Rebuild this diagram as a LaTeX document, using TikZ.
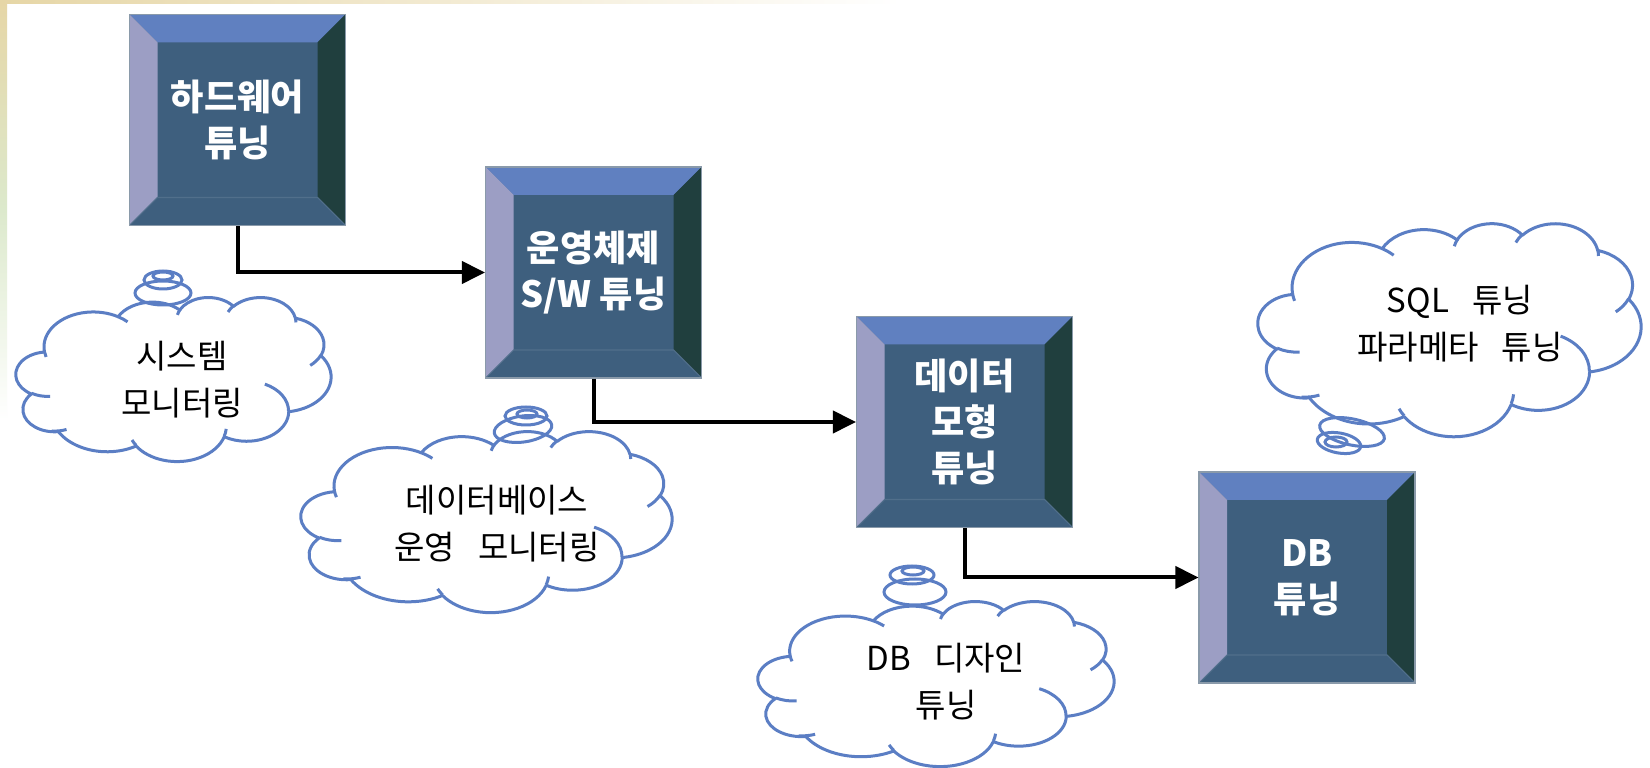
\documentclass[tikz,border=0pt]{standalone}
\usepackage{fontspec}
\newfontfamily\kfont{Noto Sans CJK KR}
\usetikzlibrary{arrows.meta}
\definecolor{face}{HTML}{3E5F7E}
\definecolor{bevtop}{HTML}{6080C0}
\definecolor{bevleft}{HTML}{9C9EC4}
\definecolor{bevright}{HTML}{203F3E}
\definecolor{boxedge}{HTML}{8A9AAA}
\definecolor{cloudblue}{HTML}{5B7EC4}
\definecolor{tan}{HTML}{E6D6A6}
\definecolor{paleg}{HTML}{DCE9CC}
\newcommand\wsp{\hspace{0.7em}}
\makeatletter
% convert a visual (DrawingML) ellipse angle pair into TikZ parametric start/delta
\newcommand\cldang[5]{%
  \pgfmathparse{atan2((#2)*sin(#4),(#3)*cos(#4))}\let\cld@a\pgfmathresult
  \pgfmathparse{atan2((#2)*sin((#4)+(#5)),(#3)*cos((#4)+(#5)))}\let\cld@b\pgfmathresult
  \pgfmathparse{\cld@b-\cld@a}\let\cld@d\pgfmathresult
  \pgfmathparse{((#5)>0)*((\cld@d<0)*360)-((#5)<0)*((\cld@d>0)*360)+(\cld@d)}\let\cld@d\pgfmathresult
  \expandafter\xdef\csname cldS#1\endcsname{\cld@a}%
  \expandafter\xdef\csname cldD#1\endcsname{\cld@d}%
}
\makeatother
\cldang{a}{67.53}{91.90}{-190.4875}{123.7805}
\cldang{b}{53.33}{72.67}{-144.1024}{89.9452}
\cldang{c}{43.65}{59.45}{-145.8079}{99.7230}
\cldang{d}{48.57}{65.95}{-130.9861}{117.2417}
\cldang{e}{53.33}{72.73}{-78.7089}{109.0269}
\cldang{f}{67.75}{92.20}{-46.2673}{130.2690}
\cldang{g}{57.85}{78.67}{0.6250}{114.0333}
\cldang{h}{67.52}{92.15}{22.4516}{115.1726}
\cldang{i}{77.20}{105.43}{66.2426}{75.7110}
\cldang{j}{43.60}{59.18}{-274.9421}{146.7356}
\cldang{k}{43.45}{59.45}{-246.8285}{152.5189}
\cldang{l}{43.45}{59.45}{86.742}{26.430}
\cldang{m}{43.60}{59.18}{73.604}{20.185}
\cldang{n}{67.52}{92.15}{137.624}{11.442}
\cldang{o}{67.52}{92.15}{6.458}{15.986}
\cldang{p}{57.85}{78.67}{-70.292}{70.917}
\cldang{q}{53.33}{72.73}{30.318}{27.752}
\cldang{r}{48.57}{65.95}{-13.744}{14.857}
\cldang{s}{48.57}{65.95}{-149.181}{18.195}
\cldang{t}{43.65}{59.45}{-163.494}{17.688}
\cldang{u}{67.53}{91.90}{-66.707}{12.319}
\cldang{v}{67.53}{91.90}{157.654}{11.858}
\tikzset{
  bevbox/.style={rectangle, minimum width=21.6mm, minimum height=21.1mm, inner sep=0pt,
    fill=face, draw=boxedge, line width=0.3pt, text=white, align=center,
    font=\kfont\bfseries\fontsize{10.3}{13.1}\selectfont,
    path picture={
      \fill[bevtop] (path picture bounding box.north west) -- (path picture bounding box.north east)
        -- ([shift={(-2.8mm,-2.8mm)}]path picture bounding box.north east)
        -- ([shift={(2.8mm,-2.8mm)}]path picture bounding box.north west) -- cycle;
      \fill[bevleft] (path picture bounding box.north west)
        -- ([shift={(2.8mm,-2.8mm)}]path picture bounding box.north west)
        -- ([shift={(2.8mm,2.8mm)}]path picture bounding box.south west)
        -- (path picture bounding box.south west) -- cycle;
      \fill[bevright] (path picture bounding box.north east)
        -- ([shift={(-2.8mm,-2.8mm)}]path picture bounding box.north east)
        -- ([shift={(-2.8mm,2.8mm)}]path picture bounding box.south east)
        -- (path picture bounding box.south east) -- cycle;
      \draw[face!90!white, line width=0.3pt] (path picture bounding box.south west)
        -- ([shift={(2.8mm,2.8mm)}]path picture bounding box.south west)
        -- ([shift={(-2.8mm,2.8mm)}]path picture bounding box.south east)
        -- (path picture bounding box.south east);
    }},
  cloudline/.style={draw=cloudblue, line width=0.3mm, line join=round},
  ctext/.style={font=\kfont\fontsize{9.4}{13.4}\selectfont, align=center, text=black},
  bubble/.style={draw=cloudblue, line width=0.3mm},
  conn/.style={line width=0.4mm, -{Triangle[length=2.3mm,width=2.2mm]}},
}
% cloud outline (DrawingML cloud geometry, 432 x 432 units) in box x0,y0,w,h
\newcommand\pptcloud[4]{%
  \begin{scope}[shift={(#1,#2)}, xscale=#3/432, yscale=#4/432]
    \filldraw[cloudline, fill=white] (39.00,143.70)
      arc[x radius=67.53, y radius=91.90, start angle=\cldSa, delta angle=\cldDa]
      arc[x radius=53.33, y radius=72.67, start angle=\cldSb, delta angle=\cldDb]
      arc[x radius=43.65, y radius=59.45, start angle=\cldSc, delta angle=\cldDc]
      arc[x radius=48.57, y radius=65.95, start angle=\cldSd, delta angle=\cldDd]
      arc[x radius=53.33, y radius=72.73, start angle=\cldSe, delta angle=\cldDe]
      arc[x radius=67.75, y radius=92.20, start angle=\cldSf, delta angle=\cldDf]
      arc[x radius=57.85, y radius=78.67, start angle=\cldSg, delta angle=\cldDg]
      arc[x radius=67.52, y radius=92.15, start angle=\cldSh, delta angle=\cldDh]
      arc[x radius=77.20, y radius=105.43, start angle=\cldSi, delta angle=\cldDi]
      arc[x radius=43.60, y radius=59.18, start angle=\cldSj, delta angle=\cldDj]
      arc[x radius=43.45, y radius=59.45, start angle=\cldSk, delta angle=\cldDk]
      -- cycle;
    \draw[cloudline]
      (46.93,261.77) arc[x radius=43.45, y radius=59.45, start angle=\cldSl, delta angle=\cldDl]
      (69.28,348.99) arc[x radius=43.60, y radius=59.18, start angle=\cldSm, delta angle=\cldDm]
      (164.78,390.90) arc[x radius=67.52, y radius=92.15, start angle=\cldSn, delta angle=\cldDn]
      (288.27,347.51) arc[x radius=67.52, y radius=92.15, start angle=\cldSo, delta angle=\cldDo]
      (341.29,229.54) arc[x radius=57.85, y radius=78.67, start angle=\cldSp, delta angle=\cldDp]
      (417.98,153.54) arc[x radius=53.33, y radius=72.73, start angle=\cldSq, delta angle=\cldDq]
      (383.24,54.26) arc[x radius=48.57, y radius=65.95, start angle=\cldSr, delta angle=\cldDr]
      (290.78,39.52) arc[x radius=48.57, y radius=65.95, start angle=\cldSs, delta angle=\cldDs]
      (221.41,47.20) arc[x radius=43.65, y radius=59.45, start angle=\cldSt, delta angle=\cldDt]
      (140.00,51.92) arc[x radius=67.53, y radius=91.90, start angle=\cldSu, delta angle=\cldDu]
      (41.27,157.89) arc[x radius=67.53, y radius=91.90, start angle=\cldSv, delta angle=\cldDv];
  \end{scope}}
\begin{document}
\begin{tikzpicture}[x=0.1mm,y=-0.1mm]
\useasboundingbox (0,0) rectangle (1650,768);
\fill[white] (0,0) rectangle (1650,768);
% faint background edges
\shade[top color=tan, bottom color=white, middle color=paleg] (0,0) rectangle (7,420);
\shade[left color=tan, right color=white] (0,0) rectangle (900,4);

% boxes
\node[bevbox] (b1) at (237.5,120) {하드웨어\\튜닝};
\node[bevbox] (b2) at (593.5,272.5) {운영체제\\S/W 튜닝};
\node[bevbox] (b3) at (964.5,422) {데이터\\모형\\튜닝};
\node[bevbox] (b4) at (1307,577.5) {DB\\튜닝};

% connectors
\draw[conn] (b1.south) |- (b2.west);
\draw[conn] (b2.south) |- (b3.west);
\draw[conn] (b3.south) |- (b4.west);

% clouds
\pptcloud{16}{297}{315}{164}
\node[ctext] (t1) at (182,380) {시스템\\모니터링};
\draw[bubble] (163,293) ellipse [x radius=28, y radius=12];
\draw[bubble] (163,280) ellipse [x radius=19, y radius=9];
\draw[bubble] (163,276) ellipse [x radius=10, y radius=4];

\pptcloud{301}{431}{371}{181}
\node[ctext] (t2) at (497,524) {데이터베이스\\운영\wsp 모니터링};
\draw[bubble, rotate around={8:(523,429)}] (523,429) ellipse [x radius=29, y radius=13];
\draw[bubble] (526,416) ellipse [x radius=21, y radius=9];
\draw[bubble] (527,414) ellipse [x radius=10, y radius=4];

\pptcloud{758}{601}{356}{165}
\node[ctext] (t3) at (946,682) {DB\wsp 디자인\\튜닝};
\draw[bubble] (915,592) ellipse [x radius=31, y radius=13];
\draw[bubble] (912,575) ellipse [x radius=22, y radius=9];
\draw[bubble] (913,571) ellipse [x radius=11, y radius=4];

\pptcloud{1258}{223}{383}{213}
\node[ctext] (t4) at (1460,324) {SQL\wsp 튜닝\\파라메타\wsp 튜닝};
\draw[bubble, rotate around={-12:(1352,432)}] (1352,432) ellipse [x radius=33, y radius=13];
\draw[bubble, rotate around={-10:(1339,443)}] (1339,443) ellipse [x radius=22, y radius=10];
\draw[bubble] (1336,442) ellipse [x radius=11, y radius=5];
\end{tikzpicture}
\end{document}
